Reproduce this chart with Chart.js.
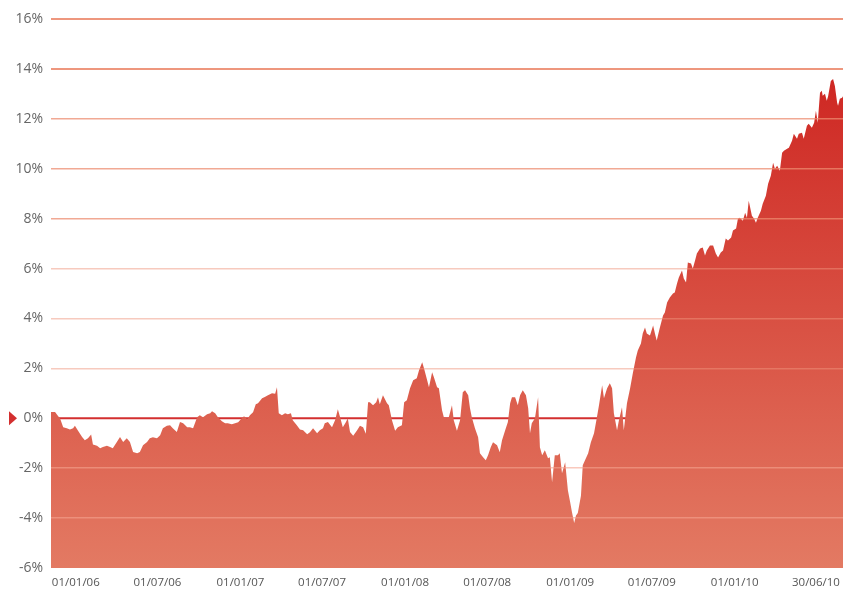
<!DOCTYPE html>
<html>
<head>
<meta charset="utf-8">
<script src="https://cdn.jsdelivr.net/npm/chart.js@4.4.1/dist/chart.umd.min.js"></script>
<style>
    html, body { margin: 0; padding: 0; background: #fff; }
    #wrap { width: 851px; height: 590px; }
</style>
</head>
<body>
<div id="wrap"><canvas id="perfChart"></canvas></div>
<script>
// days counted from 01/01/06
const days = [
    // late 2005 - mid 2006
    -55, -46, -39, -35, -28, -20, -13, -6, -2, 5, 14, 20, 27, 34, 38, 47, 54, 60, 69, 76,
    82, 91, 98, 105, 113, 120, 127, 136, 142, 149, 158, 164, 171, 180, 187, 193, 202, 209, 215, 224,
    231, 238, 247,
    // 2006 H2 - 2007 H1
    253, 260, 269, 275, 282, 291, 298, 302, 309, 315, 324, 331, 337, 346, 353, 360, 368, 373, 380, 386,
    393, 399, 404, 413, 419, 426, 435, 442, 446, 450, 457, 464, 470, 477, 481, 490, 497, 504, 513, 519,
    526, 535, 541, 548,
    // 2007 H2 - 2008 H1
    552, 559, 568, 575, 581, 586, 592, 599, 603, 608, 615, 623, 630, 637, 643, 648, 652, 659, 666, 670,
    674, 681, 690, 694, 701, 708, 714, 723, 728, 734, 741, 748, 756, 761, 768, 772, 779, 783, 790, 794,
    801, 805, 812, 816, 823, 827, 834, 838, 845, 852, 858,
    // 2008 H2 - 2009 H1
    863, 870, 874, 878, 885, 892, 896, 903, 909, 914, 920, 925, 934, 940, 945, 952, 958, 963, 967, 974,
    980, 985, 991, 998, 1003, 1007, 1011, 1018, 1025, 1029, 1034, 1040, 1047, 1051, 1056, 1062, 1069, 1073, 1078, 1085,
    1091, 1096, 1100, 1105, 1109, 1113, 1120, 1124, 1131, 1136, 1142, 1149, 1155, 1160, 1167, 1171, 1178, 1184,
    // 2009 H2
    1189, 1193, 1200, 1204, 1211, 1215, 1222, 1229, 1235, 1242, 1246, 1253, 1257, 1262, 1266, 1273, 1280, 1284, 1288, 1295,
    1302, 1306, 1311, 1317, 1324, 1328, 1333, 1337, 1344, 1348, 1353, 1357, 1364, 1368, 1373, 1377, 1384, 1390, 1395, 1399,
    1406, 1413, 1419, 1424, 1430, 1435, 1441, 1446, 1453, 1457, 1464, 1468,
    // 2010
    1472, 1479, 1484, 1488, 1492, 1499, 1504, 1508, 1512, 1519, 1523, 1530, 1535, 1541, 1546, 1550, 1555, 1561, 1566, 1570,
    1577, 1581, 1588, 1592, 1599, 1603, 1610, 1614, 1621, 1625, 1632, 1637, 1641, 1645, 1650, 1654, 1656, 1661, 1665, 1668,
    1674, 1679, 1683, 1688, 1690, 1694, 1699, 1701
];

// cumulative return, %
const returns = [
    0.25, 0.25, 0.08, 0, -0.36, -0.4, -0.45, -0.4, -0.3, -0.5, -0.75, -0.88, -0.8, -0.65, -1.05, -1.1, -1.2, -1.15, -1.1, -1.15,
    -1.2, -0.95, -0.75, -0.95, -0.8, -0.95, -1.35, -1.4, -1.35, -1.08, -0.95, -0.8, -0.76, -0.8, -0.68, -0.4, -0.3, -0.28, -0.4, -0.55,
    -0.15, -0.2, -0.36,

    -0.36, -0.4, 0.04, 0.12, 0.04, 0.16, 0.2, 0.28, 0.2, 0.04, -0.12, -0.2, -0.2, -0.24, -0.2, -0.16, 0, 0.08, -0.04, 0.12,
    0.24, 0.56, 0.6, 0.8, 0.85, 0.92, 1.0, 0.98, 1.24, 0.2, 0.12, 0.2, 0.16, 0.2, -0.08, -0.28, -0.45, -0.48, -0.64, -0.56,
    -0.4, -0.6, -0.48, -0.4,

    -0.2, -0.15, -0.36, -0.07, 0.36, 0.04, -0.36, -0.15, 0, -0.55, -0.7, -0.5, -0.3, -0.36, -0.62, 0.64, 0.64, 0.52, 0.64, 0.84,
    0.56, 0.92, 0.6, 0.52, -0.08, -0.5, -0.36, -0.28, 0.64, 0.72, 1.2, 1.52, 1.6, 1.92, 2.24, 2.0, 1.52, 1.24, 1.84, 1.64,
    1.24, 1.2, 0.32, 0.04, 0, 0.04, 0.52, -0.08, -0.5, -0.08, 1.04,

    1.12, 0.92, 0.4, 0.04, -0.4, -0.76, -1.4, -1.56, -1.68, -1.48, -1.16, -0.96, -1.08, -1.36, -0.88, -0.48, -0.15, 0.6, 0.84, 0.84,
    0.52, 0.92, 1.12, 0.92, 0.4, -0.6, -0.2, 0, 0.84, -1.16, -1.48, -1.28, -1.6, -1.56, -2.56, -1.48, -1.48, -1.4, -2.2, -1.76,
    -2.88, -3.36, -3.76, -4.2, -3.9, -3.8, -3.1, -1.88, -1.6, -1.4, -0.96, -0.6, 0, 0.52, 1.32, 0.8, 1.2, 1.4,

    1.2, 0.2, -0.48, -0.1, 0.44, -0.48, 0.6, 1.2, 1.8, 2.44, 2.72, 3.0, 3.4, 3.64, 3.4, 3.32, 3.72, 3.4, 3.12, 3.64,
    4.12, 4.24, 4.64, 4.84, 5.0, 5.04, 5.4, 5.64, 5.92, 5.6, 5.44, 6.24, 6.2, 6.0, 6.32, 6.6, 6.8, 6.84, 6.52, 6.72,
    6.92, 6.92, 6.6, 6.44, 6.64, 6.72, 7.2, 7.12, 7.24, 7.52, 7.6, 8.0,

    8.04, 7.92, 8.24, 8.04, 8.72, 8.12, 8.0, 7.84, 8.04, 8.32, 8.6, 8.92, 9.4, 9.72, 10.24, 10.0, 10.12, 9.92, 10.64, 10.72,
    10.8, 10.84, 11.12, 11.4, 11.2, 11.4, 11.44, 11.2, 11.72, 11.8, 11.64, 11.84, 12.32, 11.84, 13.04, 13.12, 12.92, 13.0, 12.72, 12.9,
    13.52, 13.6, 13.32, 12.64, 12.52, 12.8, 12.84, 12.9
];

const tickDays = [0, 181, 365, 546, 730, 912, 1096, 1277, 1461, 1641];
const tickLabels = ["01/01/06", "01/07/06", "01/01/07", "01/07/07", "01/01/08",
    "01/07/08", "01/01/09", "01/07/09", "01/01/10", "30/06/10"];
const dayMin = -55;
const dayMax = 1701;

const yMin = -6;
const yMax = 16;
const yStep = 2;

function gridColor(v) {
    if (v === 0 || v === yMin) return "rgba(0,0,0,0)";
    if (v >= 14) return "rgba(236,140,112,0.9)";
    if (v >= 8) return "rgba(236,140,112,0.75)";
    if (v > 0) return "rgba(240,150,125,0.5)";
    return "rgba(245,165,145,0.6)";
}

const zeroMarker = {
    id: "zeroMarker",
    afterDraw(chart) {
        const c = chart.ctx;
        const y = chart.scales.y.getPixelForValue(0);
        c.save();
        c.fillStyle = "#d32f2f";
        c.beginPath();
        c.moveTo(9, y - 7);
        c.lineTo(17, y);
        c.lineTo(9, y + 7);
        c.closePath();
        c.fill();
        c.restore();
    },
};

document.addEventListener("DOMContentLoaded", function () {
    const ctx = document.getElementById("perfChart").getContext("2d");

    new Chart(ctx, {
        type: "line",
        data: {
            datasets: [
                {
                    data: days.map((d, i) => ({ x: d, y: returns[i] })),
                    fill: "start",
                    borderWidth: 0,
                    pointRadius: 0,
                    tension: 0,
                    backgroundColor: function (context) {
                        const chart = context.chart;
                        const area = chart.chartArea;
                        if (!area) return "#dc6450";
                        const ys = chart.scales.y;
                        const g = chart.ctx.createLinearGradient(0, ys.getPixelForValue(14), 0, area.bottom);
                        g.addColorStop(0, "#ce2622");
                        g.addColorStop(1, "#e37a63");
                        return g;
                    },
                },
                {
                    data: [{ x: dayMin, y: 0 }, { x: dayMax, y: 0 }],
                    borderColor: "#d32f2f",
                    borderWidth: 2,
                    pointRadius: 0,
                    fill: false,
                },
            ],
        },
        options: {
            responsive: true,
            maintainAspectRatio: false,
            animation: false,
            layout: { padding: { top: 19, right: 8, left: 0, bottom: 0 } },
            plugins: {
                legend: { display: false },
                tooltip: { enabled: false },
            },
            scales: {
                x: {
                    type: "linear",
                    min: dayMin,
                    max: dayMax,
                    afterBuildTicks: (scale) => {
                        scale.ticks = tickDays.map((v) => ({ value: v }));
                    },
                    afterFit: (scale) => { scale.height = 22; },
                    grid: { display: false },
                    border: { display: false },
                    ticks: {
                        autoSkip: false,
                        maxRotation: 0,
                        padding: 0,
                        color: "#555",
                        font: { family: "'Open Sans', sans-serif", size: 11.5 },
                        callback: (v) => tickLabels[tickDays.indexOf(v)],
                    },
                },
                y: {
                    min: yMin,
                    max: yMax,
                    afterFit: (scale) => { scale.width = 51; },
                    border: { display: false },
                    grid: {
                        z: 1,
                        drawTicks: false,
                        color: (c) => gridColor(c.tick.value),
                        lineWidth: (c) => (c.tick.value >= 14 ? 2 : 1.5),
                    },
                    ticks: {
                        stepSize: yStep,
                        padding: 8,
                        color: "#666",
                        font: { family: "'Open Sans', sans-serif", size: 14 },
                        callback: (v) => v + "%",
                    },
                },
            },
        },
        plugins: [zeroMarker],
    });
});
</script>
</body>
</html>
